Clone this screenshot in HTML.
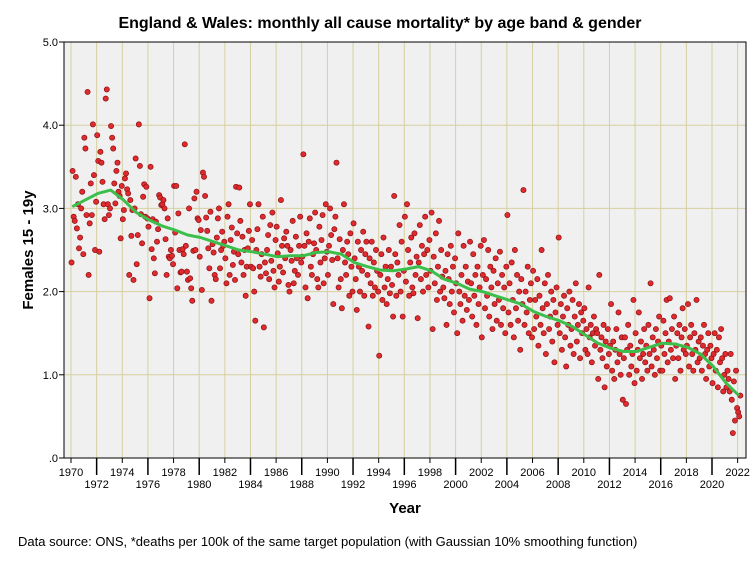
<!DOCTYPE html>
<html><head><meta charset="utf-8"><style>
body{margin:0;background:#fff;}
svg{display:block;font-family:"Liberation Sans",Arial,sans-serif;}
</style></head><body>
<svg id="chart" width="754" height="564" viewBox="0 0 754 564">
<rect width="754" height="564" fill="#fff"/>
<text x="380" y="28" text-anchor="middle" font-size="16" font-weight="bold">England &amp; Wales: monthly all cause mortality* by age band &amp; gender</text>
<rect x="64" y="42" width="682" height="416" fill="#f0f0f0"/>
<g id="grid"></g>
<g id="axes"></g>
<g id="points"></g>
<g id="smooth"></g>
<rect x="64" y="42" width="682" height="416" fill="none" stroke="#000" stroke-width="1"/>
<text transform="translate(33,250) rotate(-90)" text-anchor="middle" font-size="15" font-weight="bold">Females 15 - 19y</text>
<text x="405" y="513" text-anchor="middle" font-size="15" font-weight="bold">Year</text>
<text x="18" y="546" font-size="13">Data source: ONS, *deaths per 100k of the same target population (with Gaussian 10% smoothing function)</text>
</svg>
<script>
const startYear = 1970;
const yTicks = [0,1,2,3,4,5];
const yTickLabels = [".0","1.0","2.0","3.0","4.0","5.0"];
const xTicks = [1970,1972,1974,1976,1978,1980,1982,1984,1986,1988,1990,1992,1994,1996,1998,2000,2002,2004,2006,2008,2010,2012,2014,2016,2018,2020,2022];
const monthly = [
2.35,3.45,2.9,2.85,3.38,2.76,3.05,2.52,2.65,3.0,3.2,2.45,
3.85,3.72,2.92,4.4,2.2,2.82,3.3,2.92,4.01,3.4,2.5,3.08,
3.88,3.57,2.48,3.68,3.55,3.32,3.05,2.87,4.32,4.43,3.05,2.92,
3.0,3.99,3.85,3.72,3.3,3.06,3.45,3.55,3.2,3.15,2.64,3.27,
2.87,2.98,3.36,3.42,3.23,3.18,2.2,3.1,2.67,2.98,2.14,3.0,
3.6,2.33,2.68,4.01,3.51,2.93,2.58,3.14,3.29,2.9,3.26,2.88,
2.78,1.92,3.5,2.51,2.87,2.4,2.22,2.84,2.6,2.75,3.16,3.13,
3.04,3.05,3.1,3.0,2.63,2.2,2.88,2.42,2.4,2.5,2.43,2.33,
3.27,2.71,3.27,2.04,2.94,2.5,2.23,2.24,2.51,2.45,3.77,2.55,
2.24,2.14,3.0,2.16,2.04,1.89,2.49,3.12,2.5,3.2,2.88,2.86,
2.42,2.74,2.02,3.43,3.38,3.15,2.89,2.73,2.52,2.28,2.96,1.89,
2.57,2.47,2.2,2.15,2.65,2.88,3.0,2.28,2.5,2.72,2.55,2.6,
2.4,2.1,2.9,3.05,2.2,2.62,2.77,2.32,2.48,2.14,3.26,2.7,
2.45,3.25,2.85,2.35,2.66,2.2,2.5,1.95,2.3,2.52,2.73,3.05,
2.3,2.62,2.28,2.0,1.65,2.5,2.75,3.05,2.3,2.18,2.45,2.9,
1.57,2.35,2.22,2.5,2.68,2.15,2.8,2.37,2.95,2.25,2.05,2.62,
2.78,2.46,2.12,2.3,3.1,2.55,2.23,2.64,2.4,2.72,2.55,2.08,
2.0,2.5,2.37,2.85,2.1,2.25,2.66,2.4,2.2,2.55,2.9,2.35,
2.42,3.65,2.55,2.05,2.7,1.92,2.6,2.88,2.3,2.2,2.45,2.58,
2.95,2.5,2.15,2.05,2.78,2.35,2.62,2.92,2.1,2.4,3.05,2.48,
2.2,2.55,3.0,2.68,2.38,1.85,2.75,2.9,3.55,2.4,2.05,2.63,
2.15,1.8,2.5,3.05,2.35,2.2,2.6,2.45,1.95,2.7,2.3,2.0,
2.82,2.4,2.15,1.78,2.6,2.3,2.0,2.5,2.25,2.72,1.95,2.45,
2.6,2.2,1.58,2.4,2.1,2.6,1.95,2.35,2.05,2.5,2.25,2.0,
1.23,2.2,2.45,1.9,2.65,2.05,2.3,1.85,2.15,2.5,1.98,2.3,
2.08,1.7,3.15,2.45,1.95,2.35,2.2,2.8,2.0,2.6,1.7,2.25,
2.9,2.12,3.05,2.5,1.95,2.35,2.65,2.05,1.98,2.7,2.2,2.42,
1.68,2.35,2.8,2.15,2.55,2.0,2.45,2.9,2.2,2.5,2.05,2.62,
2.25,2.95,1.55,2.42,2.1,2.7,1.9,2.3,2.85,2.0,2.5,2.18,
2.05,1.92,2.25,1.6,2.45,2.15,1.85,2.55,2.0,2.3,1.75,2.4,
2.1,1.5,2.7,2.0,1.85,2.2,1.65,2.55,1.95,2.3,1.78,2.12,
1.9,2.6,2.1,1.7,2.45,1.95,2.2,1.6,2.3,1.85,2.05,2.55,
1.45,2.2,2.62,1.8,2.15,1.95,2.5,1.7,2.3,2.05,1.55,2.25,
1.85,2.4,1.65,2.1,1.9,2.48,1.6,2.2,1.8,2.05,1.5,2.3,
2.92,1.75,2.1,1.6,2.35,1.9,1.45,2.5,1.8,2.2,1.65,2.0,
1.3,2.15,1.85,3.22,1.6,2.0,1.75,2.3,1.5,1.9,2.1,1.45,
2.25,1.55,1.9,1.7,2.15,1.35,1.95,1.6,2.5,1.8,1.5,2.1,
1.25,1.85,2.2,1.55,1.7,2.0,1.4,1.9,1.15,1.75,2.05,1.6,
2.65,1.5,1.85,1.3,1.7,1.95,1.45,1.1,1.8,1.6,2.0,1.35,
1.55,1.9,1.25,1.7,2.1,1.4,1.6,1.85,1.2,1.75,1.5,1.65,
1.8,1.3,1.55,1.25,2.05,1.45,1.6,1.15,1.5,1.7,1.35,1.55,
1.5,0.95,2.2,1.3,1.45,1.2,1.6,0.85,1.4,1.1,1.55,1.25,
1.35,1.85,1.05,1.4,0.95,1.3,1.55,1.15,1.75,1.25,1.0,1.45,
0.7,1.2,1.45,0.65,1.3,1.6,1.0,1.35,1.1,1.25,1.9,0.9,
1.5,1.05,1.3,1.75,1.2,1.4,0.95,1.25,1.55,1.15,1.35,1.05,
1.6,1.25,2.1,1.1,1.45,1.3,1.0,1.55,1.2,1.4,1.7,1.05,
1.35,1.05,1.65,1.25,1.5,1.9,1.15,1.4,1.92,1.3,1.55,1.2,
1.7,0.95,1.35,1.5,1.2,1.6,1.05,1.45,1.8,1.3,1.55,1.25,
1.35,1.85,1.1,1.45,1.6,1.25,1.05,1.5,1.3,1.9,1.15,1.4,
1.2,1.45,1.05,1.35,1.6,1.25,0.95,1.3,1.5,1.1,1.35,1.2,
0.9,1.25,1.5,1.05,1.3,0.85,1.45,1.15,1.55,1.2,0.8,1.0,
1.25,0.85,1.05,0.95,0.8,1.25,0.7,0.3,0.92,0.45,1.05,0.6,
0.55,0.5,0.75];
const smoothYears = [1970,1971,1972,1973,1974,1975,1976,1977,1978,1979,1980,1981,1982,1983,1984,1985,1986,1987,1988,1989,1990,1991,1992,1993,1994,1995,1996,1997,1998,1999,2000,2001,2002,2003,2004,2005,2006,2007,2008,2009,2010,2011,2012,2013,2014,2015,2016,2017,2018,2019,2020,2021,2022];
const smoothValues = [3.02,3.1,3.18,3.22,3.1,2.95,2.86,2.79,2.74,2.68,2.65,2.6,2.55,2.5,2.48,2.45,2.42,2.43,2.43,2.47,2.48,2.45,2.35,2.3,2.26,2.25,2.27,2.3,2.25,2.15,2.1,2.03,2.0,1.95,1.9,1.85,1.76,1.7,1.65,1.58,1.48,1.38,1.32,1.28,1.28,1.33,1.38,1.37,1.33,1.25,1.1,0.9,0.75];

const NS="http://www.w3.org/2000/svg";
const X0=64,X1=746,Y0=42,Y1=458;
function xs(yr){return 71+12.82*(yr-1970);}
function ys(v){return 458-83.2*v;}
function mk(tag,attrs,parent){const e=document.createElementNS(NS,tag);for(const k in attrs)e.setAttribute(k,attrs[k]);parent.appendChild(e);return e;}
const grid=document.getElementById('grid'),axes=document.getElementById('axes'),pts=document.getElementById('points'),sm=document.getElementById('smooth');
yTicks.forEach((t,i)=>{
  const y=ys(t);
  if(t>0&&t<5){const g=mk('line',{x1:X0,x2:X1,y1:y,y2:y,stroke:'#d6d0a0','stroke-width':1},grid);
  
  }
  const tk=mk('line',{x1:X0-5,x2:X0,y1:y,y2:y,stroke:'#000'},axes);
  
  
  const tl=mk('text',{x:X0-6,y:y+4,'text-anchor':'end','font-size':11},axes);
  tl.textContent=yTickLabels[i];
  
  
});
xTicks.forEach((t,i)=>{
  const x=xs(t);
  const g=mk('line',{x1:x,x2:x,y1:Y0,y2:Y1,stroke:'#d6d0a0','stroke-width':1},grid);
  
  
  const low=i%2===1;
  const tk=mk('line',{x1:x,x2:x,y1:Y1,y2:Y1+(low?17:5),stroke:'#000','stroke-width':low?1.5:1},axes);
  
  
  const tl=mk('text',{x:x,y:low?488:476,'text-anchor':'middle','font-size':11},axes);
  tl.textContent=String(t);
  
  
});
monthly.forEach((v,i)=>{
  const yr=startYear+(i+0.5)/12;
  const c=mk('circle',{cx:xs(yr),cy:ys(v),r:2.6,fill:'#e02a2e',stroke:'#8a1215','stroke-width':0.7},pts);
  
  
});
const d=smoothValues.map((v,i)=>(i?'L':'M')+xs(smoothYears[i]+0.1).toFixed(1)+' '+ys(v).toFixed(1)).join(' ');
const p=mk('path',{d:d,fill:'none',stroke:'#3cbf4a','stroke-width':3,'stroke-linejoin':'round'},sm);


</script>
</body></html>
